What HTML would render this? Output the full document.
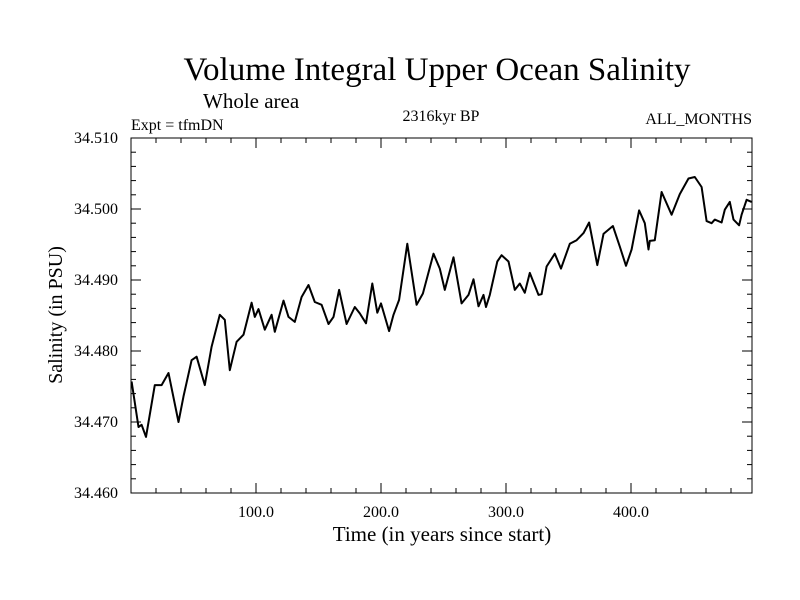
<!DOCTYPE html>
<html><head><meta charset="utf-8"><style>
body{margin:0;background:#fff}
svg{display:block;font-family:"Liberation Serif",serif}
</style></head><body>
<svg id="chart" width="800" height="600">
<rect width="800" height="600" fill="#fff"/>
<text x="437" y="80" font-size="33" text-anchor="middle">Volume Integral Upper Ocean Salinity</text>
<text x="203" y="108" font-size="21">Whole area</text>
<text x="131" y="130" font-size="16">Expt = tfmDN</text>
<text x="441" y="121" font-size="16" text-anchor="middle">2316kyr BP</text>
<text x="752" y="124" font-size="16" text-anchor="end">ALL_MONTHS</text>
<text x="442" y="541" font-size="21" text-anchor="middle">Time (in years since start)</text>
<text transform="translate(62,315) rotate(-90)" font-size="20" text-anchor="middle">Salinity (in PSU)</text>
<g id="axes"></g>
<path id="line" fill="none" stroke="#000" stroke-width="2" stroke-linejoin="round"/>
<rect x="131" y="138" width="621" height="355" fill="none" stroke="#000" stroke-width="1"/>
</svg>
<script>
const years=[0.5,6,8.5,12,19,24.5,30,38,42,48.5,52.5,59,64.5,71,75,79,84.5,90,96.5,99,102,107,112.5,115,122,126,131,136.5,142,147,152.5,158,162,166.5,172.5,179,183,188,193,197,200,206.5,210,214.5,221,228.5,233.5,242,247,251,258,264.5,270,274,278,282,284,287,293,296.5,302,307,311,315,319,326,328.5,332.5,339,344,351,356.5,362,366.5,373,378,385.5,391,396,400.5,406.5,411,414,415,419,424.5,432.5,439,446,451,456.5,460.5,464.5,467,472.5,475,479,482,486.5,488.5,492.5,496.5];
const salinity=[34.4757,34.4693,34.4696,34.4679,34.4752,34.4752,34.4769,34.4700,34.4736,34.4787,34.4792,34.4752,34.4806,34.4851,34.4844,34.4773,34.4813,34.4823,34.4868,34.4848,34.4859,34.4830,34.4851,34.4827,34.4871,34.4848,34.4841,34.4876,34.4893,34.4869,34.4865,34.4838,34.4848,34.4886,34.4838,34.4862,34.4853,34.4839,34.4895,34.4854,34.4867,34.4828,34.4851,34.4872,34.4951,34.4865,34.4881,34.4937,34.4916,34.4886,34.4932,34.4867,34.4879,34.4901,34.4863,34.4879,34.4862,34.4879,34.4926,34.4935,34.4926,34.4886,34.4895,34.4882,34.4910,34.4879,34.4880,34.4919,34.4937,34.4916,34.4951,34.4956,34.4966,34.4981,34.4921,34.4965,34.4976,34.4947,34.4920,34.4943,34.4998,34.4980,34.4943,34.4955,34.4956,34.5024,34.4992,34.5021,34.5043,34.5045,34.5031,34.4983,34.4980,34.4985,34.4981,34.4999,34.5010,34.4985,34.4977,34.4992,34.5013,34.5010];
const xTicks=[100,200,300,400];
const xTickLabels=["100.0","200.0","300.0","400.0"];
const yTicks=[34.46,34.47,34.48,34.49,34.50,34.51];
const yTickLabels=["34.460","34.470","34.480","34.490","34.500","34.510"];
const X0=131,X1=752,Y0=493,Y1=138,xmin=0,xmax=496.8,ymin=34.46,ymax=34.51;
function sx(v){return X0+(v-xmin)/(xmax-xmin)*(X1-X0);}
function sy(v){return Y0-(v-ymin)/(ymax-ymin)*(Y0-Y1);}
const NS="http://www.w3.org/2000/svg";
const g=document.getElementById('axes');
function ln(x1,y1,x2,y2,name){const l=document.createElementNS(NS,'line');l.setAttribute('x1',x1);l.setAttribute('y1',y1);l.setAttribute('x2',x2);l.setAttribute('y2',y2);l.setAttribute('stroke','#000');


g.appendChild(l);}
function tx(x,y,s,anchor,name){const t=document.createElementNS(NS,'text');t.setAttribute('x',x);t.setAttribute('y',y);t.setAttribute('font-size','16');t.setAttribute('text-anchor',anchor);t.textContent=s;


g.appendChild(t);}
for(let v=20;v<xmax;v+=20){const x=sx(v);const big=v%100===0;const L=big?10:5;ln(x,Y0,x,Y0-L,'x-tick');ln(x,Y1,x,Y1+L,'x-tick-top');}
xTicks.forEach((v,i)=>tx(sx(v),517,xTickLabels[i],'middle','x-tick-label'));
for(let k=0;k<=25;k++){const v=ymin+k*0.002;const y=sy(v);const big=k%5===0;const L=big?10:5;ln(X0,y,X0+L,y,'y-tick');ln(X1,y,X1-L,y,'y-tick-right');}
yTicks.forEach((v,i)=>tx(118,sy(v)+5,yTickLabels[i],'end','y-tick-label'));
document.getElementById('line').setAttribute('d',years.map((v,i)=>(i?'L':'M')+sx(v).toFixed(1)+','+sy(salinity[i]).toFixed(1)).join(''));
</script>
</body></html>
